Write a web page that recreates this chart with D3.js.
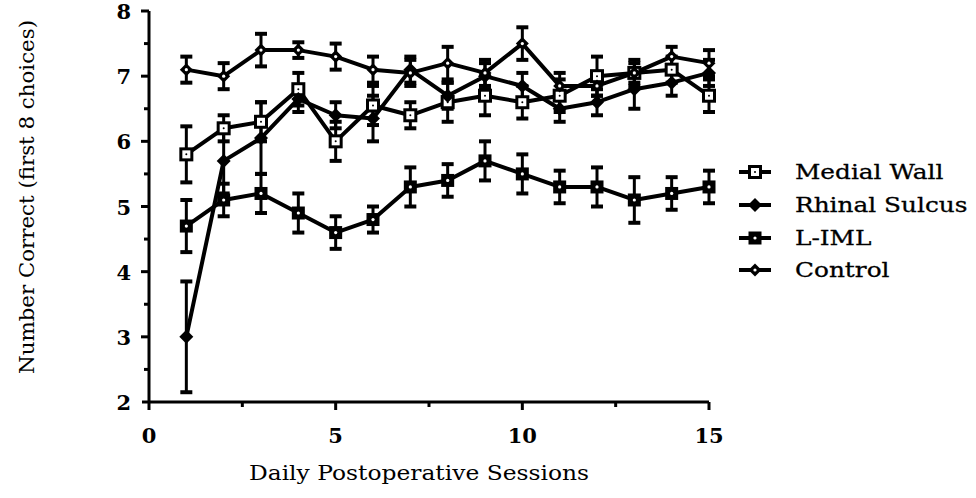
<!DOCTYPE html>
<html>
<head>
<meta charset="utf-8">
<script src="https://cdn.jsdelivr.net/npm/d3@7"></script>
<style>
  html, body { margin: 0; padding: 0; background: #fff; }
  svg { display: block; }
</style>
</head>
<body>
<svg id="chart" width="976" height="498"></svg>
<script>
// Sessions 1..15
const sessions = [1, 2, 3, 4, 5, 6, 7, 8, 9, 10, 11, 12, 13, 14, 15];

// Mean number correct per group
const medialWall   = [5.8, 6.2, 6.3, 6.8, 6.0, 6.55, 6.4, 6.6, 6.7, 6.6, 6.7, 7.0, 7.05, 7.1, 6.7];
const rhinalSulcus = [3.0, 5.7, 6.05, 6.65, 6.4, 6.35, 7.1, 6.7, 7.0, 6.85, 6.5, 6.6, 6.8, 6.9, 7.05];
const lIML         = [4.7, 5.1, 5.2, 4.9, 4.6, 4.8, 5.3, 5.4, 5.7, 5.5, 5.3, 5.3, 5.1, 5.2, 5.3];
const control      = [7.1, 7.0, 7.4, 7.4, 7.3, 7.1, 7.05, 7.2, 7.05, 7.5, 6.85, 6.85, 7.05, 7.3, 7.2];

// Standard errors
const medialWallErr   = [0.43, 0.2, 0.3, 0.25, 0.3, 0.3, 0.2, 0.3, 0.3, 0.25, 0.25, 0.3, 0.2, 0.2, 0.25];
const rhinalSulcusErr = [0.85, 0.5, 0.55, 0.2, 0.2, 0.35, 0.2, 0.2, 0.2, 0.2, 0.2, 0.2, 0.3, 0.2, 0.2];
const lIMLErr         = [0.4, 0.25, 0.3, 0.3, 0.25, 0.2, 0.3, 0.25, 0.3, 0.3, 0.25, 0.3, 0.35, 0.25, 0.25];
const controlErr      = [0.2, 0.2, 0.25, 0.12, 0.2, 0.2, 0.2, 0.25, 0.2, 0.25, 0.2, 0.15, 0.15, 0.15, 0.2];

const seriesNames = ["Medial Wall", "Rhinal Sulcus", "L-IML", "Control"];
const xTicks = [0, 5, 10, 15];
const yTicks = [2, 3, 4, 5, 6, 7, 8];

const series = [
  { name: seriesNames[0], values: medialWall,   err: medialWallErr,   marker: "openSquare" },
  { name: seriesNames[1], values: rhinalSulcus, err: rhinalSulcusErr, marker: "filledDiamond" },
  { name: seriesNames[2], values: lIML,         err: lIMLErr,         marker: "filledSquare" },
  { name: seriesNames[3], values: control,      err: controlErr,      marker: "openDiamond" }
];

const svg = d3.select("#chart");
const x = d3.scaleLinear().domain([0, 15]).range([149, 709]);
const y = d3.scaleLinear().domain([2, 8]).range([402, 11]);

const serif = "'DejaVu Serif', 'Liberation Serif', serif";

// Axes
const axisG = svg.append("g").attr("stroke", "#000").attr("stroke-width", 3).attr("fill", "none");
axisG.append("line").attr("x1", x(0) - 7).attr("x2", x(15)).attr("y1", y(2)).attr("y2", y(2));
axisG.append("line").attr("x1", x(0)).attr("x2", x(0)).attr("y1", y(8)).attr("y2", y(2) + 8);

// x ticks: major every 5, minor every 2.5
d3.range(2.5, 15.01, 2.5).forEach(v => {
  const major = v % 5 === 0;
  axisG.append("line").attr("x1", x(v)).attr("x2", x(v))
    .attr("y1", y(2)).attr("y2", y(2) + (major ? 8 : 5));
});
// y ticks: major every 1, minor every 0.5
d3.range(2.5, 8.01, 0.5).forEach(v => {
  const major = Math.abs(v - Math.round(v)) < 1e-9;
  axisG.append("line").attr("x1", x(0)).attr("x2", x(0) - (major ? 8 : 5))
    .attr("y1", y(v)).attr("y2", y(v));
});

svg.append("g").selectAll("text").data(xTicks).join("text")
  .attr("x", d => x(d)).attr("y", 443)
  .attr("text-anchor", "middle")
  .attr("font-family", serif).attr("font-weight", "bold").attr("font-size", 21)
  .text(d => d);

svg.append("g").selectAll("text").data(yTicks).join("text")
  .attr("x", x(0) - 18).attr("y", d => y(d) + 8)
  .attr("text-anchor", "end")
  .attr("font-family", serif).attr("font-weight", "bold").attr("font-size", 21)
  .text(d => d);

svg.append("text")
  .attr("x", 419).attr("y", 480)
  .attr("text-anchor", "middle")
  .attr("font-family", serif).attr("font-size", 20)
  .attr("textLength", 340).attr("lengthAdjust", "spacingAndGlyphs")
  .text("Daily Postoperative Sessions");

svg.append("text")
  .attr("transform", "translate(34,197) rotate(-90)")
  .attr("text-anchor", "middle")
  .attr("font-family", serif).attr("font-size", 20)
  .attr("textLength", 354).attr("lengthAdjust", "spacingAndGlyphs")
  .text("Number Correct (first 8 choices)");

// Marker drawing
function drawMarker(g, type, cx, cy) {
  if (type === "openSquare") {
    g.append("rect").attr("x", cx - 5.5).attr("y", cy - 5.5).attr("width", 11).attr("height", 11)
      .attr("fill", "#fff").attr("stroke", "#000").attr("stroke-width", 3);
    g.append("circle").attr("cx", cx).attr("cy", cy).attr("r", 1).attr("fill", "#000");
  } else if (type === "filledSquare") {
    g.append("rect").attr("x", cx - 6.5).attr("y", cy - 6.5).attr("width", 13).attr("height", 13)
      .attr("fill", "#000");
    g.append("circle").attr("cx", cx).attr("cy", cy).attr("r", 1.6).attr("fill", "#fff");
  } else if (type === "filledDiamond") {
    g.append("path").attr("d", `M${cx},${cy - 7}L${cx + 7},${cy}L${cx},${cy + 7}L${cx - 7},${cy}Z`)
      .attr("fill", "#000");
  } else {
    g.append("path").attr("d", `M${cx},${cy - 6.5}L${cx + 6.5},${cy}L${cx},${cy + 6.5}L${cx - 6.5},${cy}Z`)
      .attr("fill", "#000");
    g.append("circle").attr("cx", cx).attr("cy", cy).attr("r", 1.6).attr("fill", "#fff");
  }
}

const line = d3.line().x(d => x(d.s)).y(d => y(d.v));
const plot = svg.append("g");

series.forEach(sr => {
  const pts = sessions.map((s, i) => ({ s, v: sr.values[i] }));
  plot.append("path").datum(pts).attr("d", line)
    .attr("fill", "none").attr("stroke", "#000").attr("stroke-width", 4)
    .attr("stroke-linejoin", "round");
});

series.forEach(sr => {
  const g = plot.append("g");
  sessions.forEach((s, i) => {
    const cx = x(s), v = sr.values[i], e = sr.err[i];
    const eb = g.append("g").attr("stroke", "#000").attr("stroke-width", 3);
    eb.append("line").attr("x1", cx).attr("x2", cx).attr("y1", y(v + e)).attr("y2", y(v - e));
    eb.append("line").attr("x1", cx - 6).attr("x2", cx + 6).attr("y1", y(v + e)).attr("y2", y(v + e)).attr("stroke-width", 4);
    eb.append("line").attr("x1", cx - 6).attr("x2", cx + 6).attr("y1", y(v - e)).attr("y2", y(v - e)).attr("stroke-width", 4);
  });
});

series.forEach(sr => {
  const g = plot.append("g");
  sessions.forEach((s, i) => drawMarker(g, sr.marker, x(s), y(sr.values[i])));
});

// Legend: wide serif labels
const legendRows = [172, 205, 238, 270];
const legend = svg.append("g");
series.forEach((sr, i) => {
  const ly = legendRows[i];
  legend.append("line").attr("x1", 739).attr("x2", 771).attr("y1", ly).attr("y2", ly)
    .attr("stroke", "#000").attr("stroke-width", 4);
  drawMarker(legend, sr.marker, 755, ly);
  const t = legend.append("text").attr("x", 795).attr("y", ly + 7)
    .attr("font-family", serif).attr("font-size", 21)
    .attr("stroke", "#000").attr("stroke-width", 0.3)
    .text(sr.name);
  const w = t.node().getComputedTextLength();
  t.attr("textLength", w * 1.18).attr("lengthAdjust", "spacingAndGlyphs");
});
</script>
</body>
</html>
